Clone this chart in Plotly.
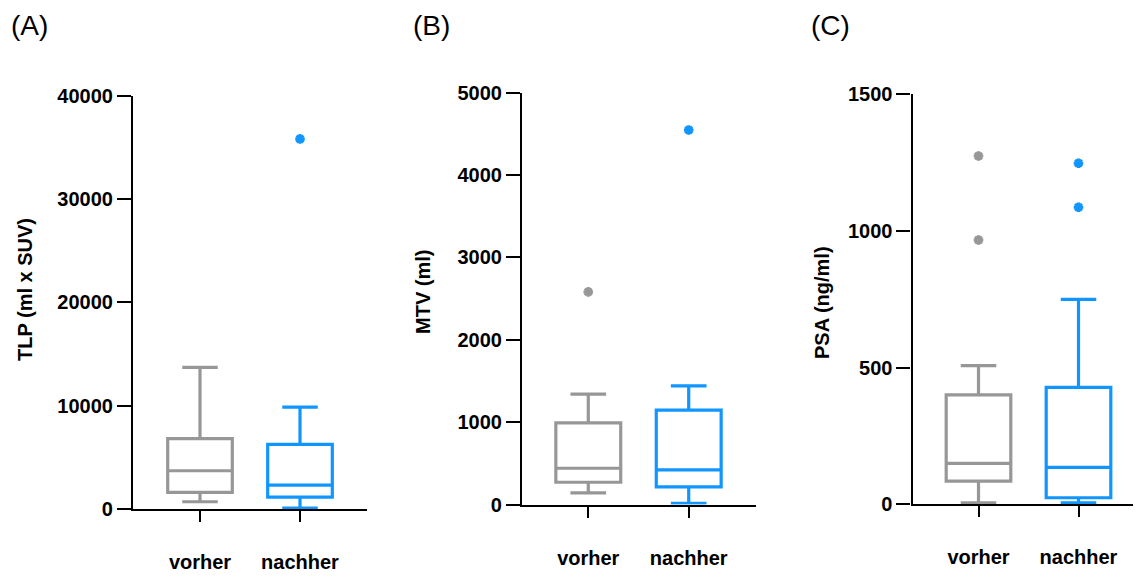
import plotly.graph_objects as go

categories = ["vorher", "nachher"]
colors = ["#979797", "#1196FF"]

# Panel A: TLP (ml x SUV)
tlp_q1 = [1600, 1150]
tlp_median = [3700, 2300]
tlp_q3 = [6800, 6250]
tlp_lower = [700, 80]
tlp_upper = [13700, 9850]
tlp_outliers = [[], [35800]]

# Panel B: MTV (ml)
mtv_q1 = [270, 215]
mtv_median = [440, 420]
mtv_q3 = [990, 1145]
mtv_lower = [140, 15]
mtv_upper = [1340, 1440]
mtv_outliers = [[2580], [4545]]

# Panel C: PSA (ng/ml)
psa_q1 = [85, 24]
psa_median = [150, 135]
psa_q3 = [400, 428]
psa_lower = [5, 5]
psa_upper = [507, 750]
psa_outliers = [[1274, 967], [1248, 1087]]

# page has an 8px body margin: figure is drawn at (8, 8)
W, H, OFF = 1133, 569, 8


def px(x):
    return (x - OFF) / W


def py(y):
    return 1 - (y - OFF) / H


panels = [
    dict(q1=tlp_q1, med=tlp_median, q3=tlp_q3, lo=tlp_lower, up=tlp_upper, out=tlp_outliers,
         ymax=40000, dtick=10000, title="TLP (ml x SUV)", letter="(A)",
         xdom=[px(133), px(367)], ydom=[py(509), py(95.5)],
         xr=[-0.67, 1.67], tx=px(25), ty=py(290), lx=px(9)),
    dict(q1=mtv_q1, med=mtv_median, q3=mtv_q3, lo=mtv_lower, up=mtv_upper, out=mtv_outliers,
         ymax=5000, dtick=1000, title="MTV (ml)", letter="(B)",
         xdom=[px(522), px(756)], ydom=[py(504.5), py(92.5)],
         xr=[-0.66, 1.67], tx=px(423), ty=py(292), lx=px(411)),
    dict(q1=psa_q1, med=psa_median, q3=psa_q3, lo=psa_lower, up=psa_upper, out=psa_outliers,
         ymax=1500, dtick=500, title="PSA (ng/ml)", letter="(C)",
         xdom=[px(912.5), 1.0], ydom=[py(504.3), py(94.3)],
         xr=[-0.66, 1.625], tx=px(822), ty=py(303), lx=px(809)),
]

FONT = "Liberation Sans, Arial, Helvetica, sans-serif"
fig = go.Figure()
annotations = []
layout = {}

for i, p in enumerate(panels):
    n = "" if i == 0 else str(i + 1)
    xa, ya = "x" + n, "y" + n
    for j, cat in enumerate(categories):
        fig.add_trace(go.Box(
            x=[cat], q1=[p["q1"][j]], median=[p["med"][j]], q3=[p["q3"][j]],
            lowerfence=[p["lo"][j]], upperfence=[p["up"][j]],
            width=0.646, whiskerwidth=0.55,
            line=dict(color=colors[j], width=3.2),
            fillcolor="rgba(0,0,0,0)", boxpoints=False,
            xaxis=xa, yaxis=ya, showlegend=False, hoverinfo="skip"))
        if p["out"][j]:
            fig.add_trace(go.Scatter(
                x=[cat] * len(p["out"][j]), y=p["out"][j], mode="markers",
                marker=dict(symbol="asterisk", size=8, color=colors[j],
                            line=dict(color=colors[j], width=3)),
                xaxis=xa, yaxis=ya, showlegend=False, hoverinfo="skip"))
    layout["xaxis" + n] = dict(
        domain=p["xdom"], anchor=ya, type="category", categoryorder="array",
        categoryarray=categories, range=p["xr"], showline=True, linecolor="black",
        linewidth=2.2, ticks="outside", ticklen=11, tickwidth=2.2, tickcolor="black",
        ticklabelstandoff=23, showgrid=False, zeroline=False, fixedrange=True,
        automargin=False,
        tickfont=dict(family=FONT, size=20, color="black", weight="bold"))
    layout["yaxis" + n] = dict(
        domain=p["ydom"], anchor=xa, range=[0, p["ymax"]], dtick=p["dtick"],
        tick0=0, showline=True, linecolor="black", linewidth=2.2, ticks="outside",
        ticklen=14, tickwidth=2.2, tickcolor="black", showgrid=False,
        zeroline=False, fixedrange=True, automargin=False,
        exponentformat="none", separatethousands=False, tickformat="d",
        tickfont=dict(family=FONT, size=20, color="black", weight="bold"))
    annotations.append(dict(
        text=p["title"], x=p["tx"], y=p["ty"], xref="paper", yref="paper",
        textangle=-90, showarrow=False, xanchor="center", yanchor="middle",
        font=dict(family=FONT, size=20, color="black", weight="bold")))
    annotations.append(dict(
        text=p["letter"], x=p["lx"], y=py(25), xref="paper", yref="paper",
        showarrow=False, xanchor="left", yanchor="middle",
        font=dict(family=FONT, size=28, color="black")))

fig.update_layout(
    width=W, height=H, margin=dict(l=0, r=0, t=0, b=0, autoexpand=False),
    paper_bgcolor="white", plot_bgcolor="white", boxmode="overlay",
    annotations=annotations, **layout)

fig.write_html("out.html")
